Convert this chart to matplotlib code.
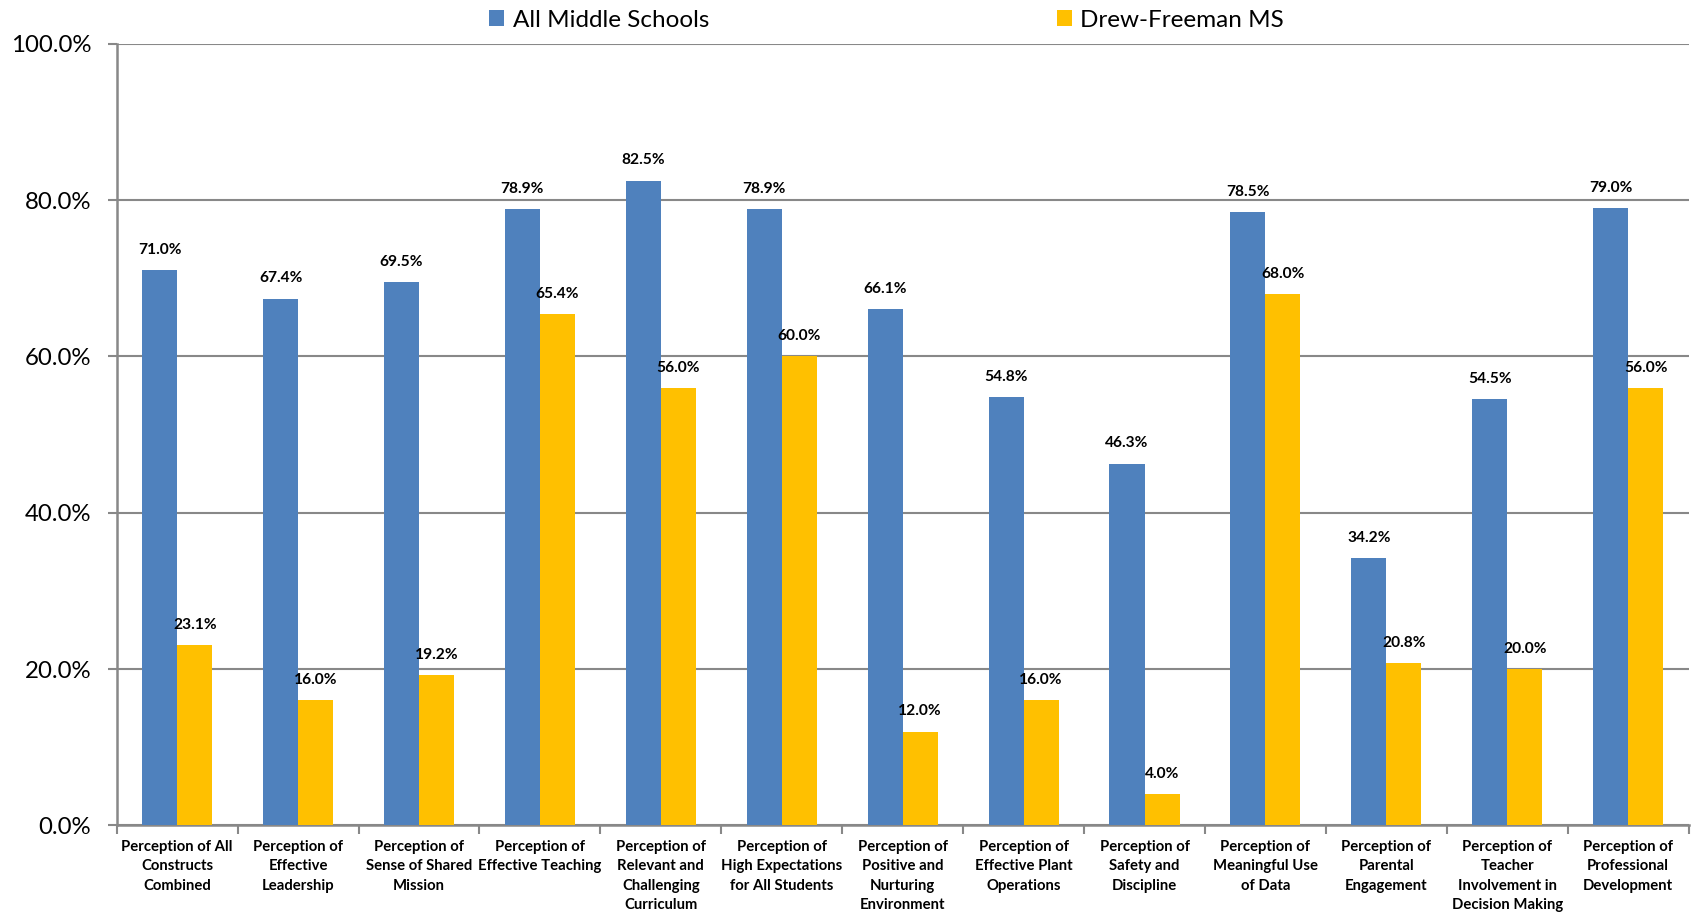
import matplotlib
matplotlib.use("Agg")
import matplotlib.pyplot as plt
import numpy as np
from matplotlib.ticker import FixedLocator, FuncFormatter

categories = [
    "Perception of All\nConstructs\nCombined",
    "Perception of\nEffective\nLeadership",
    "Perception of\nSense of Shared\nMission",
    "Perception of\nEffective Teaching",
    "Perception of\nRelevant and\nChallenging\nCurriculum",
    "Perception of\nHigh Expectations\nfor All Students",
    "Perception of\nPositive and\nNurturing\nEnvironment",
    "Perception of\nEffective Plant\nOperations",
    "Perception of\nSafety and\nDiscipline",
    "Perception of\nMeaningful Use\nof Data",
    "Perception of\nParental\nEngagement",
    "Perception of\nTeacher\nInvolvement in\nDecision Making",
    "Perception of\nProfessional\nDevelopment",
]
all_middle = [71.0, 67.4, 69.5, 78.9, 82.5, 78.9, 66.1, 54.8, 46.3, 78.5, 34.2, 54.5, 79.0]
drew_freeman = [23.1, 16.0, 19.2, 65.4, 56.0, 60.0, 12.0, 16.0, 4.0, 68.0, 20.8, 20.0, 56.0]
series_names = ["All Middle Schools", "Drew-Freeman MS"]
yticks = [0, 20, 40, 60, 80, 100]

plt.rcParams['font.family'] = ['Lato', 'DejaVu Sans']

BLUE = "#4F81BD"
YELLOW = "#FFC000"
GRID = "#888888"

fig = plt.figure(figsize=(16.92, 9.14), dpi=100)
ax = fig.add_axes([0.069, 0.097, 0.929, 0.855])

x = np.arange(len(categories))
w = 0.29
b1 = ax.bar(x - w / 2, all_middle, w, color=BLUE, label=series_names[0], zorder=3)
b2 = ax.bar(x + w / 2, drew_freeman, w, color=YELLOW, label=series_names[1], zorder=3)

for bars, vals in ((b1, all_middle), (b2, drew_freeman)):
    for rect, v in zip(bars, vals):
        ax.annotate(f"{v:.1f}%", (rect.get_x() + rect.get_width() / 2, v),
                    xytext=(0, 14.5), textcoords="offset points",
                    ha="center", va="center", fontsize=11.2, fontweight="bold",
                    color="black", zorder=4)

ax.set_xlim(-0.5, len(categories) - 0.5)
ax.set_ylim(0, 100)
ax.set_yticks(yticks)
ax.yaxis.set_major_formatter(FuncFormatter(lambda v, p: f"{v:.1f}%"))
ax.tick_params(axis="y", length=6.5, width=1.5, color=GRID, pad=12, labelsize=17.3)
ax.grid(axis="y", color=GRID, linewidth=1.5, zorder=0)

ax.set_xticks(x)
ax.set_xticklabels(categories, fontsize=10.7, fontweight="bold", linespacing=1.5)
ax.tick_params(axis="x", which="major", length=0, pad=10.5)
ax.xaxis.set_minor_locator(FixedLocator(np.arange(-0.5, len(categories), 1.0)))
ax.tick_params(axis="x", which="minor", length=6.5, width=1.5, color=GRID)

for s in ("top", "right"):
    ax.spines[s].set_visible(False)
for s in ("left", "bottom"):
    ax.spines[s].set_color(GRID)
    ax.spines[s].set_linewidth(1.8)

fig.legend(handles=[b1, b2], labels=series_names, loc="center",
           bbox_to_anchor=(0.524, 0.978), ncol=2, frameon=False,
           fontsize=17.5, handlelength=0.62, handleheight=0.62,
           handletextpad=0.35, columnspacing=14.3, borderaxespad=0)

fig.savefig("out.png", dpi=100)
